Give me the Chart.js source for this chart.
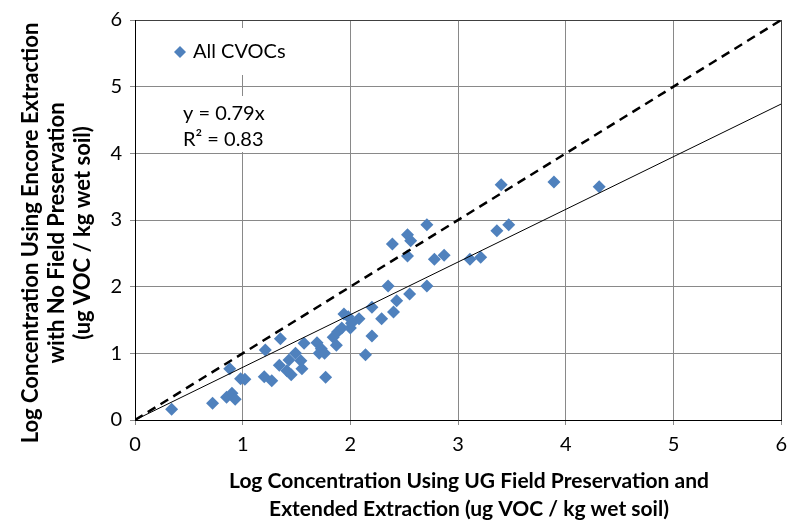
<!DOCTYPE html>
<html>
<head>
<meta charset="utf-8">
<script src="https://cdn.jsdelivr.net/npm/chart.js@4/dist/chart.umd.min.js"></script>
<style>
html, body { margin: 0; padding: 0; background: #fff; overflow: hidden; }
</style>
</head>
<body>
<canvas id="myChart" width="795" height="523"></canvas>
<script>
'use strict';
// log concentrations, UG field preservation (x) vs Encore (y)
let xVals = [0.34, 0.72, 0.85, 0.90, 0.93, 0.88, 0.98, 1.02, 1.21, 1.20,
             1.27, 1.35, 1.34, 1.41, 1.45, 1.43, 1.49, 1.55, 1.54, 1.57,
             1.69, 1.73, 1.71, 1.76, 1.77, 1.84, 1.87, 1.88, 1.92, 1.94,
             1.98, 2.00, 2.01, 2.08, 2.14, 2.20, 2.20, 2.29, 2.35, 2.40,
             2.43, 2.55, 2.71, 2.39, 2.53, 2.56, 2.53, 2.71, 2.78, 2.87,
             3.11, 3.21, 3.36, 3.47, 3.40, 3.89, 4.31];
let yVals = [0.16, 0.25, 0.34, 0.40, 0.31, 0.77, 0.62, 0.61, 1.05, 0.65,
             0.59, 1.22, 0.82, 0.74, 0.68, 0.90, 1.00, 0.77, 0.89, 1.15,
             1.16, 1.07, 1.00, 1.00, 0.64, 1.24, 1.12, 1.32, 1.38, 1.59,
             1.55, 1.38, 1.45, 1.52, 0.98, 1.26, 1.69, 1.52, 2.01, 1.62,
             1.79, 1.89, 2.01, 2.64, 2.78, 2.69, 2.46, 2.93, 2.41, 2.47,
             2.41, 2.44, 2.84, 2.93, 3.53, 3.57, 3.50];
let seriesName = 'All CVOCs';
let fitSlope = 0.79;
let fitR2 = 0.83;
let axisTicks = [0, 1, 2, 3, 4, 5, 6];
let xTitle = ['Log Concentration Using UG Field Preservation and', 'Extended Extraction (ug VOC / kg wet soil)'];
let yTitle = ['Log Concentration Using Encore Extraction', 'with No Field Preservation', '(ug VOC / kg wet soil)'];

let blue = '#4f81bd';
let gridCol = '#898989';
let fontFam = 'Lato, "Open Sans", sans-serif';

let points = [];
for (let i = 0; i < xVals.length; i++) {
    points.push({x: xVals[i], y: yVals[i]});
}
let lo = axisTicks[0];
let hi = axisTicks[axisTicks.length - 1];
let oneToOne = [{x: lo, y: lo}, {x: hi, y: hi}];
let fitLine = [{x: lo, y: fitSlope * lo}, {x: hi, y: fitSlope * hi}];

// legend + trendline label drawn inside the plot, with white boxes like excel
let boxLabels = {
    id: 'boxLabels',
    afterDatasetsDraw(chart) {
        let c = chart.ctx;
        c.save();
        c.fillStyle = '#fff';
        c.fillRect(157, 28, 96, 47);
        c.fillRect(178, 96, 93, 56);

        c.fillStyle = blue;
        c.beginPath();
        c.moveTo(180, 46);
        c.lineTo(186, 52);
        c.lineTo(180, 58);
        c.lineTo(174, 52);
        c.closePath();
        c.fill();

        c.fillStyle = '#000';
        c.font = '20px ' + fontFam;
        c.textBaseline = 'middle';
        c.fillText(seriesName, 193, 52);
        c.fillText('y = ' + fitSlope + 'x', 183, 114);
        c.fillText('R\u00b2 = ' + fitR2, 183, 140);
        c.restore();
    }
};

// axis titles (excel puts them a little off the plot centre)
let axisTitles = {
    id: 'axisTitles',
    afterDraw(chart) {
        let c = chart.ctx;
        c.save();
        c.fillStyle = '#000';
        c.textAlign = 'center';
        c.textBaseline = 'middle';
        c.font = 'bold 21px ' + fontFam;
        for (let i = 0; i < xTitle.length; i++) {
            c.fillText(xTitle[i], 469, 481 + i * 28);
        }
        c.font = 'bold 22px ' + fontFam;
        c.translate(0, 233);
        c.rotate(-Math.PI / 2);
        for (let i = 0; i < yTitle.length; i++) {
            c.fillText(yTitle[i], 0, 31 + i * 26);
        }
        c.restore();
    }
};

function gridColor(ctx) {
    return ctx.tick && ctx.tick.value === hi ? '#404040' : gridCol;
}

let ctx = document.getElementById('myChart').getContext('2d');
let chart = new Chart(ctx, {
    type: 'scatter',
    data: {
        datasets: [{
            label: seriesName,
            data: points,
            pointStyle: 'rectRot',
            pointRadius: 6.5,
            pointHoverRadius: 6.5,
            backgroundColor: blue,
            borderColor: blue,
            borderWidth: 0,
            order: 2
        }, {
            type: 'line',
            label: '1:1',
            data: oneToOne,
            borderColor: '#000',
            borderWidth: 2.5,
            borderDash: [9, 6],
            pointRadius: 0,
            fill: false,
            order: 1
        }, {
            type: 'line',
            label: 'fit',
            data: fitLine,
            borderColor: '#000',
            borderWidth: 1,
            pointRadius: 0,
            fill: false,
            order: 0
        }]
    },
    options: {
        responsive: false,
        animation: false,
        layout: {padding: {top: 17, right: 0, bottom: 0, left: 0}},
        plugins: {
            legend: {display: false},
            tooltip: {enabled: false}
        },
        scales: {
            x: {
                type: 'linear',
                min: lo,
                max: hi,
                afterBuildTicks: (s) => { s.ticks = axisTicks.map(v => ({value: v})); },
                afterFit: (s) => { s.height = 103; },
                grid: {color: gridColor, tickLength: 5, tickColor: gridCol},
                border: {color: '#000', width: 1},
                ticks: {color: '#000', padding: 8, font: {family: fontFam, size: 20}}
            },
            y: {
                type: 'linear',
                min: lo,
                max: hi,
                afterBuildTicks: (s) => { s.ticks = axisTicks.map(v => ({value: v})); },
                afterFit: (s) => { s.width = 135; },
                grid: {color: gridColor, tickLength: 5, tickColor: gridCol},
                border: {color: '#000', width: 1},
                ticks: {color: '#000', padding: 8, font: {family: fontFam, size: 20}}
            }
        }
    },
    plugins: [boxLabels, axisTitles]
});
</script>
</body>
</html>
